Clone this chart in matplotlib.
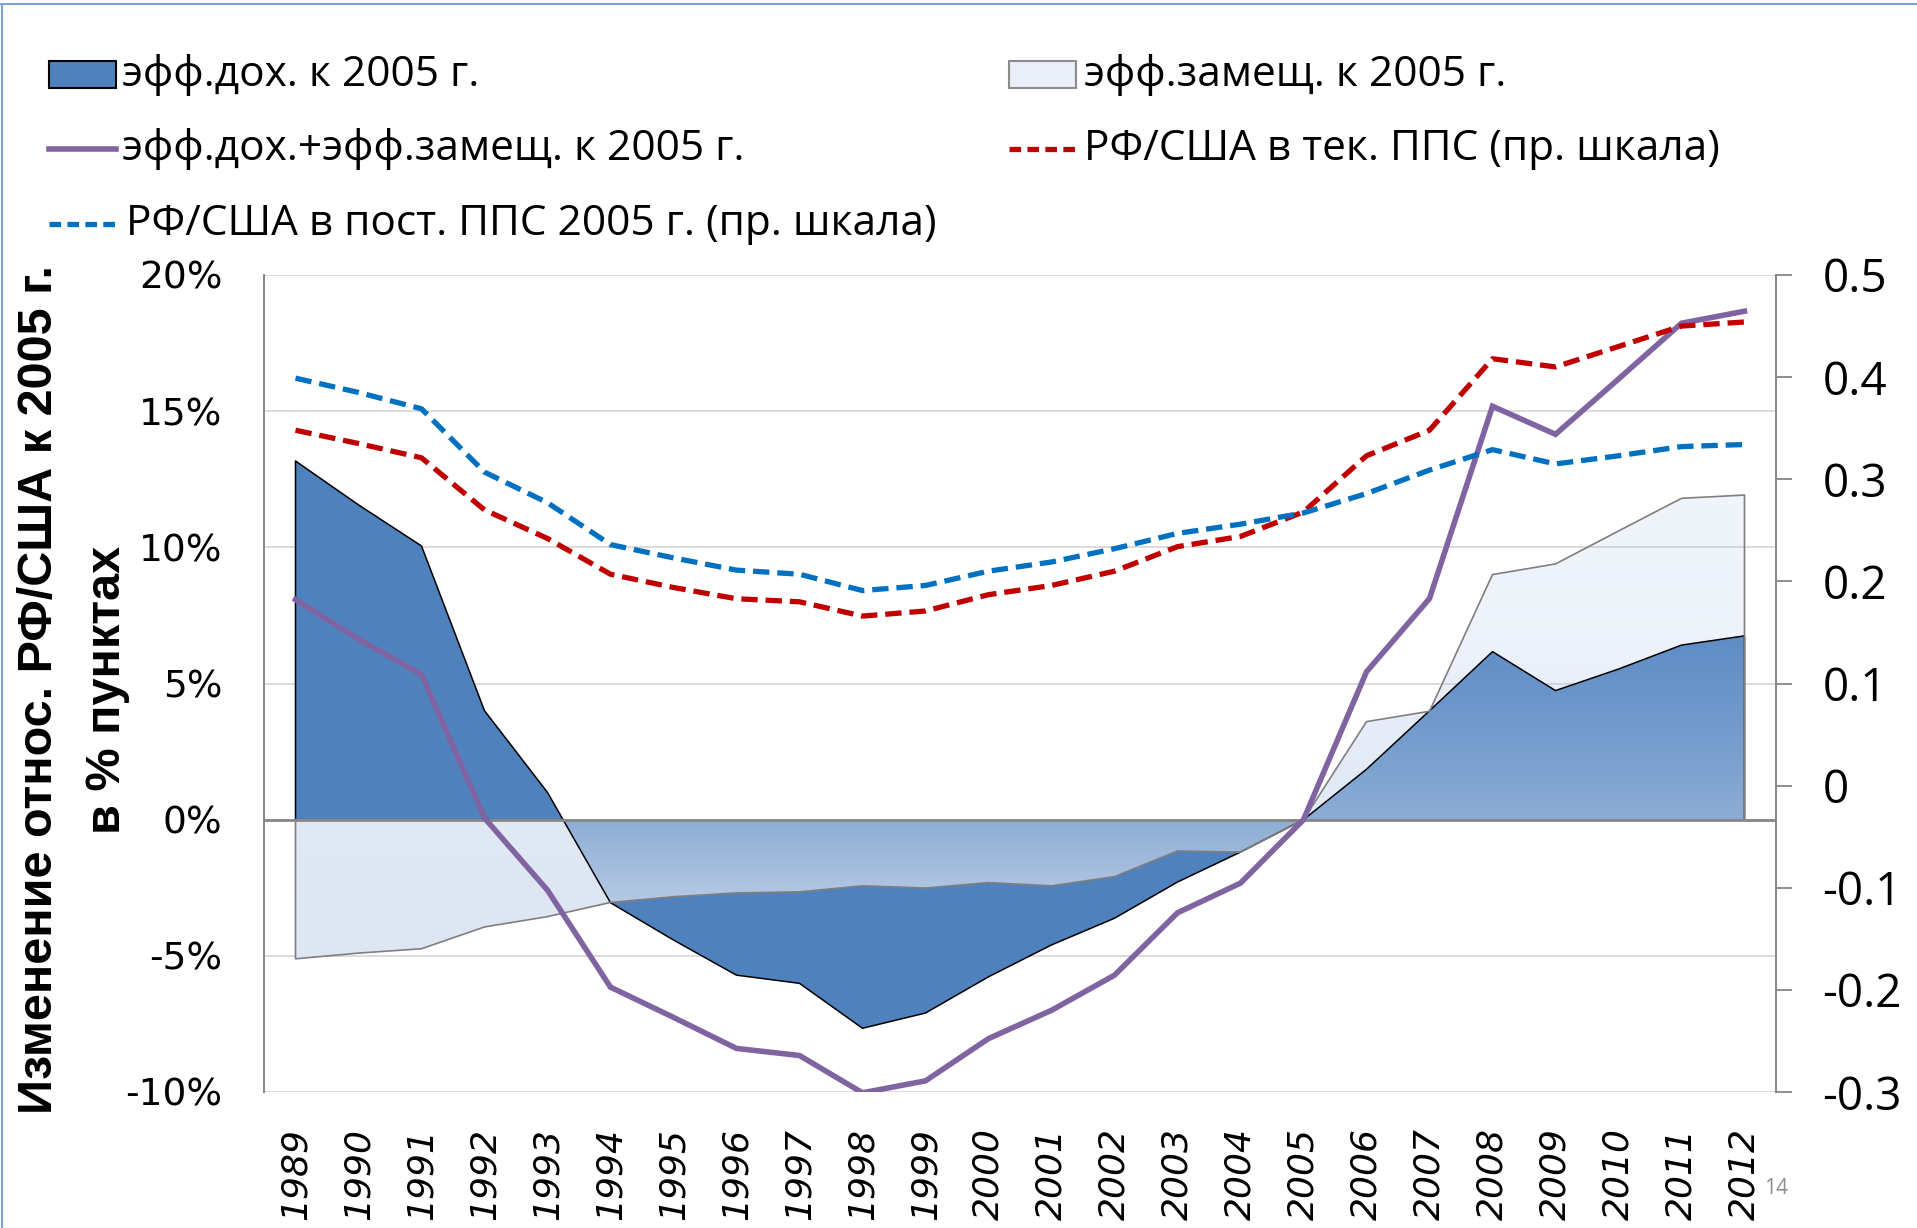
import numpy as np
import matplotlib
matplotlib.use("Agg")
import matplotlib.pyplot as plt
from matplotlib import font_manager
from matplotlib.lines import Line2D
from matplotlib.patches import Rectangle, PathPatch

# data
years = [str(y) for y in range(1989, 2013)]
income_eff = [13.17, 11.56, 10.05, 4.0, 1.0, -3.05, -4.42, -5.71, -6.01, -7.66, -7.1, -5.77,
              -4.6, -3.62, -2.29, -1.19, 0.0, 1.85, 4.0, 6.17, 4.74, 5.53, 6.41, 6.75]
subst_eff = [-5.11, -4.9, -4.74, -3.94, -3.56, -3.04, -2.83, -2.69, -2.65, -2.43, -2.51, -2.31,
             -2.43, -2.09, -1.15, -1.19, 0.0, 3.6, 3.98, 9.0, 9.39, 10.6, 11.8, 11.92]
total_eff = [8.08, 6.63, 5.33, 0.06, -2.59, -6.15, -7.26, -8.4, -8.66, -10.03, -9.59, -8.04,
             -7.0, -5.71, -3.42, -2.33, 0.0, 5.43, 8.12, 15.18, 14.15, 16.18, 18.23, 18.67]
ratio_cur_ppp = [0.348, 0.335, 0.321, 0.270, 0.242, 0.207, 0.194, 0.183, 0.180, 0.166, 0.171, 0.187,
                 0.196, 0.210, 0.234, 0.244, 0.268, 0.323, 0.348, 0.418, 0.410, 0.430, 0.450, 0.454]
ratio_const_ppp = [0.399, 0.385, 0.369, 0.307, 0.277, 0.236, 0.223, 0.211, 0.207, 0.191, 0.196, 0.210,
                   0.219, 0.232, 0.247, 0.256, 0.267, 0.286, 0.309, 0.329, 0.315, 0.323, 0.332, 0.334]

labels = ["эфф.дох. к 2005 г.", "эфф.замещ. к 2005 г.", "эфф.дох.+эфф.замещ. к 2005 г.",
          "РФ/США в тек. ППС (пр. шкала)", "РФ/США в пост. ППС 2005 г. (пр. шкала)"]
left_ticks = [-10, -5, 0, 5, 10, 15, 20]
right_ticks = [-0.3, -0.2, -0.1, 0, 0.1, 0.2, 0.3, 0.4, 0.5]


def pick(fams):
    for f in fams:
        try:
            font_manager.findfont(f, fallback_to_default=False)
            return f
        except ValueError:
            pass
    return "DejaVu Sans"


calib = pick(["Open Sans", "Noto Sans", "DejaVu Sans"])
narrow = pick(["Liberation Sans Narrow", "Liberation Sans", "DejaVu Sans"])

DARK = "#4f81bd"
PURPLE = "#8064a2"
RED = "#c00000"
BLUE = "#0070c0"
AXGRAY = "#868686"

W, H = 1917, 1228
fig = plt.figure(figsize=(W / 100, H / 100), dpi=100)
ax = fig.add_axes([264 / W, 1 - 1092 / H, (1776 - 264) / W, (1092 - 275) / H])
ax2 = ax.twinx()

x = np.arange(len(years))

# income effect area
ax.fill_between(x, 0, income_eff, facecolor=DARK, linewidth=0, zorder=1)

# substitution effect area: pale fill with vertical alpha gradient
light = ax.fill_between(x, 0, subst_eff, facecolor="none", linewidth=0, zorder=1)
clip = PathPatch(light.get_paths()[0], transform=ax.transData, facecolor="none", edgecolor="none")
ax.add_patch(clip)
gy = np.linspace(-10, 20, 600)
stop_y = [-5.2, -2.5, 0, 6.7, 12.1]
grad = np.zeros((len(gy), 1, 4))
grad[:, 0, 0] = np.interp(gy, stop_y, [220, 211, 199, 166, 155]) / 255
grad[:, 0, 1] = np.interp(gy, stop_y, [229, 222, 215, 191, 185]) / 255
grad[:, 0, 2] = np.interp(gy, stop_y, [243, 240, 236, 234, 230]) / 255
grad[:, 0, 3] = np.interp(gy, stop_y, [0.92, 0.73, 0.52, 0.19, 0.15])
im = ax.imshow(grad, extent=(-0.5, len(years) - 0.5, -10, 20), origin="lower",
               aspect="auto", interpolation="bilinear", zorder=2)
im.set_clip_path(clip)

# area outlines
ex = np.concatenate([[x[0]], x, [x[-1]]])
ax.plot(ex, np.concatenate([[0], income_eff, [0]]), color="black", lw=1.1, zorder=3)
ax.plot(ex, np.concatenate([[0], subst_eff, [0]]), color="#7f7f7f", lw=1.2, zorder=3)

ax.axhline(0, color=AXGRAY, lw=2.0, zorder=3.5)
ax.plot(x, total_eff, color=PURPLE, lw=4.0, zorder=4, solid_joinstyle="miter")

ax2.plot(x, ratio_cur_ppp, color=RED, lw=3.8, dashes=(3.1, 1.5), zorder=5)
ax2.plot(x, ratio_const_ppp, color=BLUE, lw=3.8, dashes=(3.1, 1.5), zorder=5)

ax.set_xlim(-0.5, len(years) - 0.5)
ax.set_ylim(-10, 20)
ax2.set_ylim(-0.3, 0.5)

ax.set_yticks(left_ticks)
ax.set_yticklabels([f"{t}%" for t in left_ticks], fontsize=27, family="DejaVu Sans")
ax.tick_params(axis="y", length=0, pad=30)
ax.grid(axis="y", color="#d9d9d9", lw=1.3, zorder=0)
ax.set_axisbelow(True)

ax.set_xticks(x)
ax.set_xticklabels(years, rotation=90, fontsize=26, style="italic", family="DejaVu Sans")
ax.tick_params(axis="x", length=0, pad=26)

ax2.set_yticks(right_ticks)
ax2.set_yticklabels(["0" if t == 0 else f"{t:.1f}" for t in right_ticks], fontsize=33, family=calib)
ax2.tick_params(axis="y", direction="out", length=11.5, width=1.3, color=AXGRAY, pad=22)

for a in (ax, ax2):
    a.spines["top"].set_visible(False)
    a.spines["bottom"].set_visible(False)
    a.spines["left"].set_color(AXGRAY)
    a.spines["right"].set_color(AXGRAY)
    a.spines["left"].set_linewidth(1.3)
    a.spines["right"].set_linewidth(1.3)

# axis title
fig.text(40 / W, 1 - 690 / H, "Изменение относ. РФ/США к 2005 г.", rotation=90,
         ha="center", va="center", fontsize=35, weight="bold", family=narrow)
fig.text(108 / W, 1 - 690 / H, "в % пунктах", rotation=90,
         ha="center", va="center", fontsize=35, weight="bold", family=narrow)

# legend drawn by hand in pixel positions
def fx(px):
    return px / W


def fy(py):
    return 1 - py / H


rows = [74.6, 149.2, 223.7]
fig.add_artist(Rectangle((fx(49), fy(rows[0] + 13)), fx(67), 27 / H, facecolor=DARK,
                         edgecolor="black", lw=1.5, transform=fig.transFigure))
fig.add_artist(Rectangle((fx(1009), fy(rows[0] + 13)), fx(67), 27 / H, facecolor="#e9eef8",
                         edgecolor="#8c8c8c", lw=1.5, transform=fig.transFigure))
fig.add_artist(Line2D([fx(49), fx(116)], [fy(rows[1])] * 2, color=PURPLE, lw=4.0,
                      transform=fig.transFigure))
fig.add_artist(Line2D([fx(1009), fx(1076)], [fy(rows[1])] * 2, color=RED, lw=3.8,
                      dashes=(2.2, 1.2), transform=fig.transFigure))
fig.add_artist(Line2D([fx(49), fx(116)], [fy(rows[2])] * 2, color=BLUE, lw=3.8,
                      dashes=(2.2, 1.2), transform=fig.transFigure))

leg_kw = dict(fontsize=30.5, family=calib, va="center", ha="left")
fig.text(fx(122), fy(rows[0]), labels[0], **leg_kw)
fig.text(fx(1084), fy(rows[0]), labels[1], **leg_kw)
fig.text(fx(122), fy(rows[1]), labels[2], **leg_kw)
fig.text(fx(1084), fy(rows[1]), labels[3], **leg_kw)
fig.text(fx(126), fy(rows[2]), labels[4], **leg_kw)

fig.text(fx(1776), fy(1188), "14", color="#8c8c8c", fontsize=15, family=calib,
         ha="center", va="center")

# slide border
fig.add_artist(Line2D([0, 1], [fy(4)] * 2, color="#7fa3d4", lw=1.5, transform=fig.transFigure))
fig.add_artist(Line2D([fx(1.5)] * 2, [0, fy(4)], color="#7fa3d4", lw=1.5, transform=fig.transFigure))

fig.savefig("out.png", dpi=100)
